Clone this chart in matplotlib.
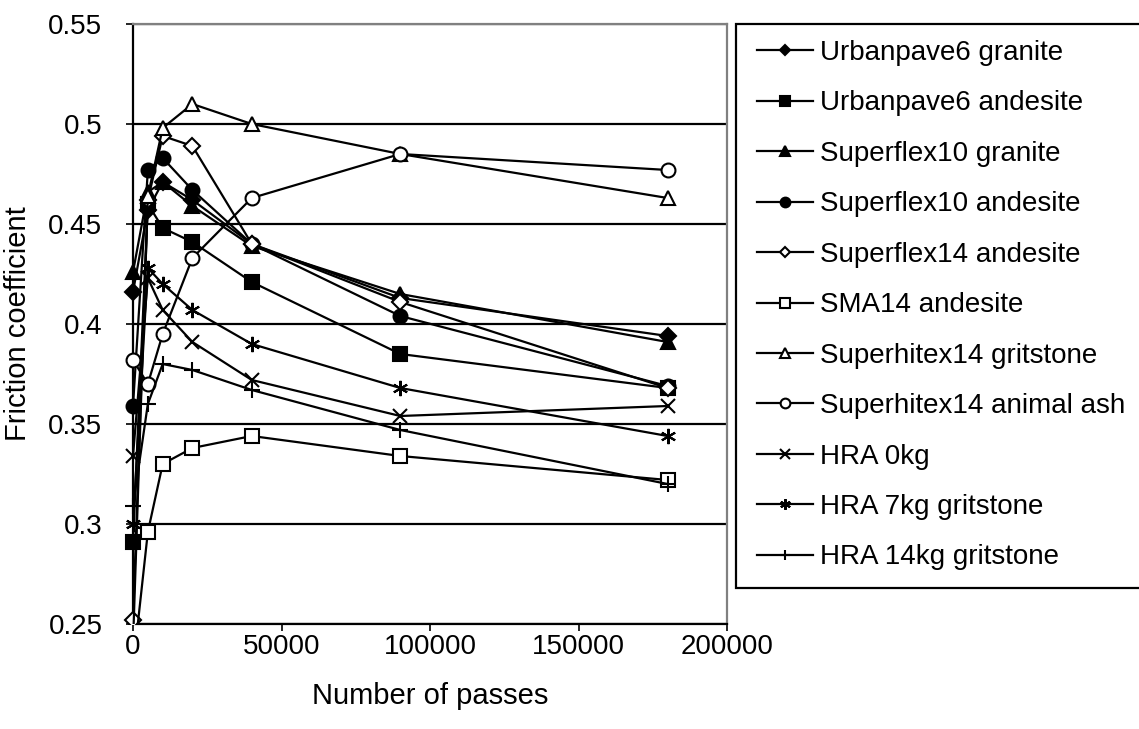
import numpy as np
import matplotlib.pyplot as plt
from matplotlib.patches import Rectangle

plt.rcParams['font.family'] = ['Liberation Sans', 'DejaVu Sans']

# -----------------------------------------------------------------
# Datos
# -----------------------------------------------------------------
passes = [0, 5000, 10000, 20000, 40000, 90000, 180000]

urbanpave6_granite = [0.416, 0.457, 0.471, 0.462, 0.440, 0.413, 0.394]
urbanpave6_andesite = [0.291, 0.460, 0.448, 0.441, 0.421, 0.385, 0.368]
superflex10_granite = [0.426, 0.466, 0.471, 0.459, 0.439, 0.415, 0.391]
superflex10_andesite = [0.359, 0.477, 0.483, 0.467, 0.440, 0.404, 0.369]
superflex14_andesite = [0.252, 0.462, 0.494, 0.489, 0.440, 0.411, 0.368]
sma14_andesite = [0.228, 0.296, 0.330, 0.338, 0.344, 0.334, 0.322]
superhitex14_gritstone = [0.240, 0.464, 0.498, 0.510, 0.500, 0.485, 0.463]
superhitex14_ash = [0.382, 0.370, 0.395, 0.433, 0.463, 0.485, 0.477]
hra_0kg = [0.334, 0.423, 0.407, 0.391, 0.372, 0.354, 0.359]
hra_7kg = [0.300, 0.428, 0.420, 0.407, 0.390, 0.368, 0.344]
hra_14kg = [0.309, 0.360, 0.380, 0.377, 0.367, 0.347, 0.320]

series = [
    ("Urbanpave6 granite", urbanpave6_granite, "D", "black", 8),
    ("Urbanpave6 andesite", urbanpave6_andesite, "s", "black", 10),
    ("Superflex10 granite", superflex10_granite, "^", "black", 10),
    ("Superflex10 andesite", superflex10_andesite, "o", "black", 10),
    ("Superflex14 andesite", superflex14_andesite, "D", "white", 8),
    ("SMA14 andesite", sma14_andesite, "s", "white", 10),
    ("Superhitex14 gritstone", superhitex14_gritstone, "^", "white", 10),
    ("Superhitex14 animal ash", superhitex14_ash, "o", "white", 10),
    ("HRA 0kg", hra_0kg, "x", "black", 10),
    ("HRA 7kg gritstone", hra_7kg, (6, 2, 0), "black", 11),
    ("HRA 14kg gritstone", hra_14kg, "+", "black", 11),
]

# -----------------------------------------------------------------
# Gráfica
# -----------------------------------------------------------------
W, H = 1139, 729
fig = plt.figure(figsize=(W / 100, H / 100), dpi=100)
ax = fig.add_axes([133 / W, 1 - 624 / H, 594 / W, 600 / H])

# recorte: deja ver marcadores a la izquierda de x=0, corta por debajo de 0.25
clip = Rectangle((-0.06, 0), 1.12, 1.06, transform=ax.transAxes,
                 facecolor="none", edgecolor="none")
ax.add_patch(clip)

handles = []
for label, vals, mk, fc, ms in series:
    ln, = ax.plot(passes, vals, color="black", linewidth=1.6, marker=mk,
                  markersize=ms, markerfacecolor=fc, markeredgecolor="black",
                  markeredgewidth=1.5, label=label, zorder=3)
    ln.set_clip_path(clip)
    handles.append(ln)

ax.set_xlim(0, 200000)
ax.set_ylim(0.25, 0.55)
ax.set_xticks([0, 50000, 100000, 150000, 200000])
ax.set_xticklabels(["0", "50000", "100000", "150000", "200000"])
ax.set_yticks([0.25, 0.3, 0.35, 0.4, 0.45, 0.5, 0.55])
ax.set_yticklabels(["0.25", "0.3", "0.35", "0.4", "0.45", "0.5", "0.55"])
ax.yaxis.grid(True, color="black", linewidth=1.6)
ax.set_axisbelow(True)
ax.tick_params(labelsize=20, direction="out", length=5, width=1.2)
ax.tick_params(axis="y", pad=17)
ax.tick_params(axis="x", pad=2)

ax.spines["left"].set_linewidth(1.6)
ax.spines["bottom"].set_linewidth(1.6)
for s in ["top", "right"]:
    ax.spines[s].set_color("#808080")
    ax.spines[s].set_linewidth(1.6)

ax.set_xlabel("Number of passes", fontsize=21, labelpad=16)
ax.set_ylabel("Friction coefficient", fontsize=21, labelpad=12)

# Leyenda: marco dibujado aparte, sale por la derecha de la figura
fig.patches.append(Rectangle((736 / W, 1 - 588 / H), 500 / W, 564 / H,
                             transform=fig.transFigure, facecolor="white",
                             edgecolor="black", linewidth=1.6, zorder=0))
leg = fig.legend(handles=handles, loc="upper left",
                 bbox_to_anchor=(757 / W, 1 - 40 / H),
                 fontsize=20, frameon=False,
                 handlelength=2.0, handletextpad=0.25, labelspacing=0.88,
                 borderpad=0, markerscale=0.7, borderaxespad=0)

fig.savefig("out.png", dpi=100)
